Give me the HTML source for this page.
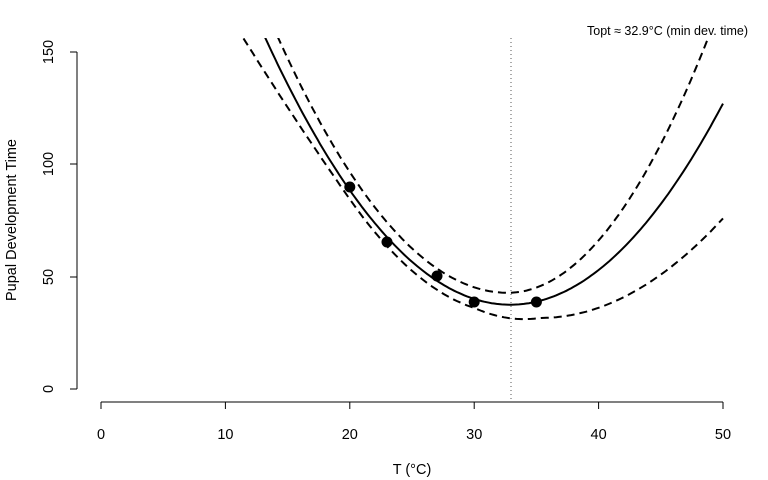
<!DOCTYPE html>
<html><head><meta charset="utf-8"><style>body{margin:0;background:#fff}svg{display:block}text{font-family:"Liberation Sans",Arial,sans-serif;fill:#000}</style></head>
<body>
<svg id="s" width="768" height="480" xmlns="http://www.w3.org/2000/svg">
<defs><clipPath id="c"><rect x="77" y="38" width="671" height="364"/></clipPath></defs>
<g stroke="#000" stroke-width="1" fill="none">
<line x1="77" y1="52" x2="77" y2="389"/>
<line x1="70" y1="389" x2="77" y2="389"/><line x1="70" y1="277" x2="77" y2="277"/><line x1="70" y1="164" x2="77" y2="164"/><line x1="70" y1="52" x2="77" y2="52"/>
<line x1="101" y1="402" x2="723" y2="402"/>
<line x1="101" y1="402" x2="101" y2="409"/><line x1="225.4" y1="402" x2="225.4" y2="409"/><line x1="349.8" y1="402" x2="349.8" y2="409"/><line x1="474.2" y1="402" x2="474.2" y2="409"/><line x1="598.6" y1="402" x2="598.6" y2="409"/><line x1="723" y1="402" x2="723" y2="409"/>
<line x1="511" y1="38" x2="511" y2="402" stroke="#555" stroke-dasharray="1,3"/>
</g>
<g font-size="14.5" text-anchor="middle">
<text x="101" y="439">0</text><text x="225.4" y="439">10</text><text x="349.8" y="439">20</text><text x="474.2" y="439">30</text><text x="598.6" y="439">40</text><text x="723" y="439">50</text>
<text transform="translate(53,389) rotate(-90)">0</text><text transform="translate(53,277) rotate(-90)">50</text><text transform="translate(53,164) rotate(-90)">100</text><text transform="translate(53,52) rotate(-90)">150</text>
<text x="412" y="474">T (°C)</text>
<text transform="translate(16,220) rotate(-90)">Pupal Development Time</text>
</g>
<text x="748" y="35" font-size="12.5" text-anchor="end">Topt ≈ 32.9°C (min dev. time)</text>
<g id="curves" clip-path="url(#c)" fill="none" stroke="#000" stroke-width="2"></g>
<g fill="#000"><circle cx="349.8" cy="187" r="5.5"/><circle cx="387" cy="242" r="5.5"/><circle cx="437" cy="276" r="5.5"/><circle cx="474.2" cy="302" r="5.5"/><circle cx="536.4" cy="302" r="5.5"/></g>
</svg>
<script>
function X(t){return 101+t*12.44}function Y(v){return 389-v*2.248}
function sol(t){return 0.306*(t-32.9)*(t-32.9)+37.5}
function upf(t){var d=t-32.7;return 42.8+(t<32.7?0.333:0.437)*d*d;}
function lof(t){
 if(t>=35.3){var d=t-35.3;return 31.6+0.205*d*d;}
 var off;
 if(t>=30) off=-4-3.7*(t-30)/5.3;
 else if(t>=20) off=-4;
 else off=-4-0.25*(20-t)*(20-t);
 return sol(t)+off;
}
function path(f){var d="";for(var t=5;t<=50.001;t+=0.2){d+=(d?"L":"M")+X(t).toFixed(1)+","+Y(f(t)).toFixed(1);}return d;}
var g=document.getElementById("curves");
function add(d,dash){var p=document.createElementNS("http://www.w3.org/2000/svg","path");p.setAttribute("d",d);if(dash)p.setAttribute("stroke-dasharray","8,5");g.appendChild(p);}
add(path(sol));add(path(upf),1);add(path(lof),1);
</script>
</body></html>
